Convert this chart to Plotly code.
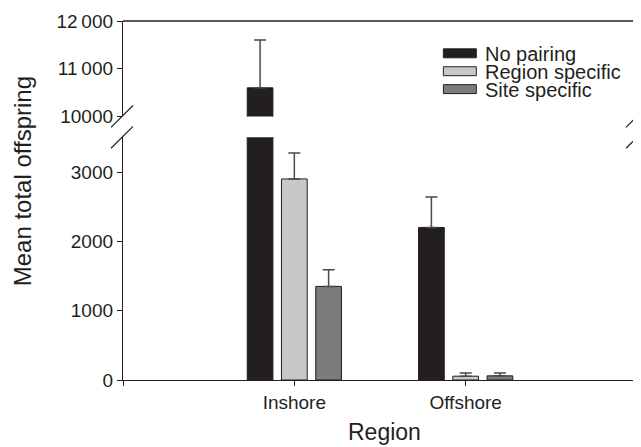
import plotly.graph_objects as go

# ---- data ----
regions = ["Inshore", "Offshore"]
series_names = ["No pairing", "Region specific", "Site specific"]
no_pairing = [10600, 2200]
no_pairing_err = [1000, 440]
region_specific = [2900, 55]
region_specific_err = [375, 45]
site_specific = [1350, 60]
site_specific_err = [240, 40]

lower_ticks = [0, 1000, 2000, 3000]
lower_ticktext = ["0", "1000", "2000", "3000"]
upper_ticks = [10000, 11000, 12000]
upper_ticktext = ["10000", "11\u2009000", "12\u2009000"]
lower_range = [0, 3500]
upper_range = [10000, 12000]

# ---- style ----
colors = ["#231f20", "#c7c8ca", "#7b7c7e"]
ink = "#231f20"
FONT = "Liberation Sans, Arial, Helvetica, sans-serif"

# the page body adds an 8px margin; size the figure to fit inside the window
OFF = 8
W, H = 641 - OFF, 447 - OFF
# plot area edges in window pixels
left_px, right_px, top_px, bottom_px = 123, 638, 19, 380
ml, mt = left_px - OFF, top_px - OFF
mr, mb = W - (right_px - OFF), H - (bottom_px - OFF)
pw, ph = W - ml - mr, H - mt - mb
lower_top_px, upper_bot_px = 136, 115
lower_dom = [0, (bottom_px - lower_top_px) / ph]
upper_dom = [(bottom_px - upper_bot_px) / ph, 1]

values = [no_pairing, region_specific, site_specific]
errors = [no_pairing_err, region_specific_err, site_specific_err]

fig = go.Figure()
xpos = list(range(len(regions)))
for yax in ["y", "y2"]:
    for name, vals, errs, col in zip(series_names, values, errors, colors):
        fig.add_trace(go.Bar(
            x=xpos, y=vals, name=name, yaxis=yax, showlegend=False,
            marker=dict(color=col, line=dict(color=ink, width=1)),
            error_y=dict(type="data", symmetric=False, array=errs,
                         arrayminus=[0] * len(errs), color="#4a4a4a",
                         thickness=1.5, width=6),
        ))

axis_font = dict(family=FONT, size=19, color=ink)
common = dict(ticks="outside", ticklen=5, tickcolor=ink, showline=True,
              linecolor=ink, linewidth=1.3, showgrid=False, zeroline=False,
              tickfont=axis_font)
fig.update_layout(
    width=W, height=H,
    margin=dict(l=ml, r=mr, t=mt, b=mb),
    paper_bgcolor="white", plot_bgcolor="white",
    barmode="group", bargap=0.4, bargroupgap=0.25,
    font=dict(family=FONT, color=ink),
    xaxis=dict(range=[-1, 2], tickvals=[-1, 0, 1, 2],
               ticktext=[""] + regions + [""], anchor="y", **common),
    yaxis=dict(domain=lower_dom, range=lower_range, tickvals=lower_ticks,
               ticktext=lower_ticktext, mirror=True, anchor="x", **common),
    yaxis2=dict(domain=upper_dom, range=upper_range, tickvals=upper_ticks,
                ticktext=upper_ticktext, mirror=True, anchor="x", **common),
)

def px_x(px):
    return (px - left_px) / pw

def px_y(py):
    return (bottom_px - py) / ph

shapes = []
# top frame line
shapes.append(dict(type="line", xref="paper", yref="paper", x0=0, x1=1,
                   y0=1, y1=1, line=dict(color=ink, width=1.3)))
# axis break marks
for cx in [left_px - 1, right_px]:
    for cy in [upper_bot_px, lower_top_px]:
        shapes.append(dict(type="line", xref="paper", yref="paper",
                           x0=px_x(cx - 11), y0=px_y(cy + 11),
                           x1=px_x(cx + 11), y1=px_y(cy - 11),
                           line=dict(color=ink, width=1.2)))

annotations = []
# legend (drawn as boxes + labels to match the wide swatches)
leg_rows = [51.5, 69.5, 87.5]
for name, col, ry in zip(series_names, colors, leg_rows):
    shapes.append(dict(type="rect", xref="paper", yref="paper",
                       x0=px_x(444), x1=px_x(477), y0=px_y(ry + 4.5),
                       y1=px_y(ry - 4.5), fillcolor=col,
                       line=dict(color=ink, width=1)))
    annotations.append(dict(text=name, xref="paper", yref="paper",
                            x=px_x(484), y=px_y(ry + 1), xanchor="left",
                            yanchor="middle", showarrow=False,
                            font=dict(family=FONT, size=20, color=ink)))

# axis titles
annotations.append(dict(text="Region", xref="paper", yref="paper",
                        x=px_x(385), y=px_y(432), xanchor="center",
                        yanchor="middle", showarrow=False,
                        font=dict(family=FONT, size=23, color=ink)))
annotations.append(dict(text="Mean total offspring", xref="paper",
                        yref="paper", x=px_x(22), y=px_y(180),
                        xanchor="center", yanchor="middle", textangle=-90,
                        showarrow=False,
                        font=dict(family=FONT, size=24, color=ink)))

fig.update_layout(shapes=shapes, annotations=annotations)
fig.write_html("out.html")
